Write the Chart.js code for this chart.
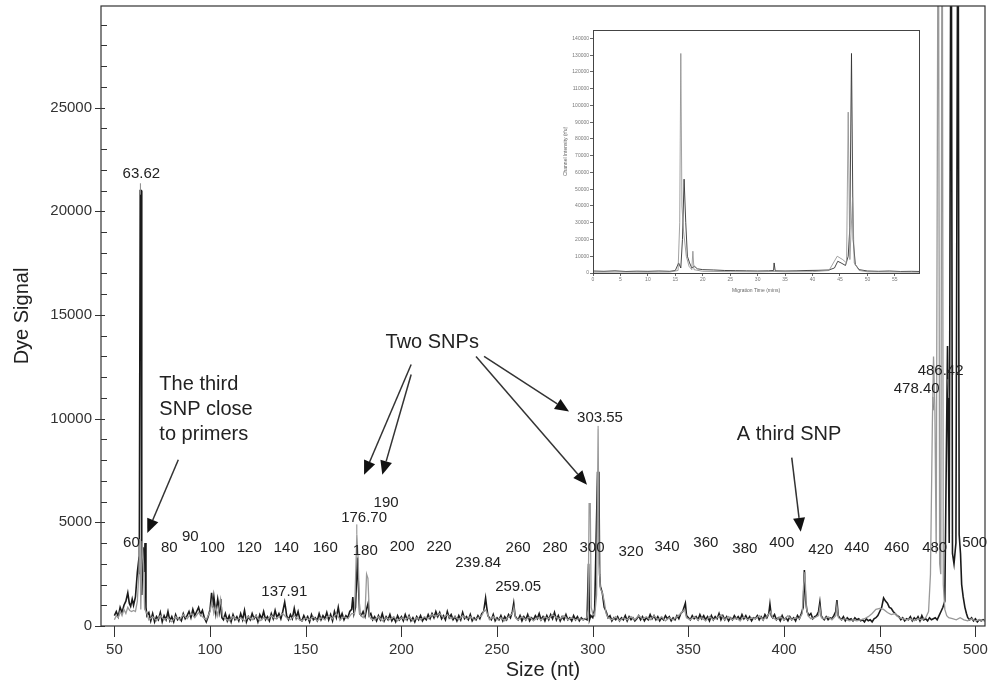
<!DOCTYPE html>
<html>
<head>
<meta charset="utf-8">
<script src="https://cdn.jsdelivr.net/npm/chart.js@4.4.1/dist/chart.umd.min.js"></script>
<style>
  body { margin: 0; background: #fff; }
  #wrap { position: relative; width: 988px; height: 684px; }
  #main { position: absolute; left: 0; top: 0; }
  #inset { position: absolute; left: 560px; top: 18px; }
</style>
</head>
<body>
<div id="wrap">
  <canvas id="main" width="988" height="684"></canvas>
  <canvas id="inset" width="370" height="280"></canvas>
</div>
<script>
// Main electropherogram: size (nt) vs dye signal
const xTicks = [50, 100, 150, 200, 250, 300, 350, 400, 450, 500];
const yTicks = [0, 5000, 10000, 15000, 20000, 25000];

// dark trace [size, signal]
const blackTrace = [
  [50,500],[51,700],[52,450],[53,900],[54,650],[55,1000],[56,1200],[57,1600],[57.8,1100],[58.5,950],
  [59.3,1300],[60,1000],[61,1400],[62,2600],[62.5,3000],[63,2500],[63.5,21000],[64,21000],[64.3,1500],[65,3800],
  [65.5,2600],[66,4000],[66.5,900],[67,500],[68,650],[69,250],[70,600],[71,200],[72,450],[73,300],
  [74,650],[75,200],[76,500],[77,300],[78,700],[79,250],[80,450],[81,200],[82,550],[83,300],
  [84,400],[85,250],[86,600],[87,350],[88,500],[89,700],[90,400],[91,800],[92,500],[93,700],
  [94,900],[95,550],[96,750],[97,400],[98,200],[99,450],[100,800],[100.8,1600],[101.5,900],[102,1400],
  [103,600],[104,1300],[105,700],[105.6,1300],[106.2,400],[107,300],[108,600],[109,250],[110,500],[111,200],
  [112,550],[113,300],[114,450],[115,250],[116,600],[117,300],[118,750],[119,200],[120,450],[121,300],
  [122,600],[123,350],[124,500],[125,200],[126,550],[127,350],[128,700],[129,300],[130,450],[131,250],
  [132,600],[133,350],[134,750],[135,400],[136,600],[137,350],[138,700],[139,1150],[139.6,800],[140,500],
  [141,300],[142,550],[143,350],[144,850],[145,400],[146,700],[147,300],[148,250],[149,500],[150,300],
  [151,450],[152,200],[153,550],[154,300],[155,400],[156,250],[157,600],[158,300],[159,500],[160,350],
  [161,650],[162,300],[163,550],[164,250],[165,700],[166,400],[167,900],[168,350],[169,600],[170,300],
  [171,500],[172,400],[173,700],[174,800],[174.6,1400],[175.2,600],[176,900],[177,3300],[177.6,1800],[178.2,600],
  [179,500],[180,700],[181,450],[182,900],[182.6,1100],[183.2,500],[184,600],[185,300],[186,450],[187,250],
  [188,500],[189,300],[190,600],[191,250],[192,450],[193,300],[194,550],[195,250],[196,400],[197,200],
  [198,500],[199,300],[200,450],[201,250],[202,550],[203,300],[204,500],[205,250],[206,400],[207,200],
  [208,450],[209,300],[210,500],[211,250],[212,400],[213,300],[214,550],[215,350],[216,600],[217,400],
  [218,700],[219,450],[220,650],[221,350],[222,500],[223,300],[224,700],[225,400],[226,550],[227,300],
  [228,450],[229,250],[230,500],[231,300],[232,650],[233,350],[234,450],[235,300],[236,550],[237,250],
  [238,400],[239,300],[240,500],[241,350],[242,600],[243,700],[244,1350],[244.6,900],[245.2,500],[246,400],
  [247,300],[248,550],[249,250],[250,400],[251,300],[252,500],[253,250],[254,450],[255,300],[256,550],
  [257,400],[258,700],[258.7,1100],[259.4,500],[260,400],[261,300],[262,500],[263,250],[264,450],[265,300],
  [266,550],[267,250],[268,400],[269,300],[270,500],[271,350],[272,600],[273,300],[274,450],[275,250],
  [276,500],[277,300],[278,550],[279,350],[280,650],[281,300],[282,500],[283,250],[284,450],[285,300],
  [286,550],[287,300],[288,400],[289,250],[290,500],[291,300],[292,450],[293,250],[294,400],[295,300],
  [296,350],[297,300],[297.8,3000],[298.3,300],[299,500],[300,400],[301,800],[302.5,7400],[303.2,7400],[303.6,2500],
  [304,1900],[305,1600],[306,900],[307,700],[308,400],[309,500],[310,250],[311,400],[312,300],[313,450],
  [314,250],[315,400],[316,300],[317,500],[318,250],[319,450],[320,300],[321,400],[322,250],[323,350],
  [324,500],[325,300],[326,450],[327,250],[328,400],[329,300],[330,550],[331,350],[332,500],[333,300],
  [334,450],[335,250],[336,400],[337,300],[338,500],[339,350],[340,450],[341,250],[342,400],[343,300],
  [344,500],[345,350],[346,600],[347,700],[348.4,1100],[349,500],[350,400],[351,300],[352,500],[353,350],
  [354,450],[355,300],[356,550],[357,350],[358,500],[359,300],[360,450],[361,250],[362,500],[363,300],
  [364,450],[365,350],[366,600],[367,300],[368,500],[369,300],[370,450],[371,250],[372,400],[373,300],
  [374,500],[375,350],[376,450],[377,300],[378,550],[379,350],[380,500],[381,300],[382,450],[383,250],
  [384,400],[385,350],[386,500],[387,300],[388,450],[389,300],[390,550],[391,400],[392,600],[392.6,1050],
  [393.3,500],[394,400],[395,550],[396,300],[397,400],[398,250],[399,500],[400,300],[401,400],[402,250],
  [403,450],[404,300],[405,400],[406,250],[407,500],[408,350],[409,600],[410,900],[410.6,2700],[411.3,1200],
  [412,700],[413,500],[414,600],[415,350],[416,450],[417,500],[418,700],[418.7,1150],[419.4,500],[420,400],
  [421,300],[422,450],[423,300],[424,400],[425,350],[426,500],[427,700],[427.6,1250],[428.3,500],[429,400],
  [430,300],[431,450],[432,250],[433,400],[434,300],[435,350],[436,250],[437,400],[438,300],[439,350],
  [440,250],[441,300],[442,200],[443,350],[444,250],[445,300],[446,200],[447,350],[448,400],[449,500],
  [450,700],[451,900],[452,1350],[453,1200],[454,1100],[455,900],[456,850],[457,700],[458,600],[459,500],
  [460,450],[461,300],[462,400],[463,250],[464,350],[465,300],[466,450],[467,250],[468,400],[469,300],
  [470,450],[471,250],[472,500],[473,300],[474,350],[475,250],[476,400],[477,300],[478,350],[479,400],
  [480,300],[481,500],[482,700],[483,900],[484,1200],[485.4,13500],[486.3,4000],[487.3,40000],[488,3500],[488.8,3000],
  [489.8,4000],[490.9,40000],[491.5,4400],[492.2,3500],[492.8,2000],[493.6,1400],[494.5,900],[495.3,600],[496,400],[497,300],
  [498,400],[499,250],[500,350],[501,200],[502,300],[503,250],[504,300],[505,250]
];

// light trace [size, signal]
const grayTrace = [
  [50,300],[51,500],[52,400],[53,700],[54,500],[55,800],[56,600],[57,900],[58,750],[59,700],
  [60,750],[61,700],[62,1200],[62.8,2600],[63.3,4200],[63.8,800],[64.5,4100],[65.2,3000],[65.8,800],[66.5,700],
  [67,600],[68,300],[70,450],[72,250],[74,500],[76,300],[78,400],[80,200],[82,450],[84,300],
  [86,550],[88,350],[90,600],[92,400],[94,650],[96,450],[98,300],[100,700],[101,1200],[102,600],
  [103,900],[104,500],[105.5,1300],[106.5,500],[108,350],[110,250],[112,450],[114,300],[116,400],[118,250],
  [120,450],[122,300],[124,500],[126,250],[128,400],[130,300],[132,500],[134,350],[136,450],[138,600],
  [140,400],[142,300],[144,500],[146,350],[148,250],[150,400],[152,300],[154,450],[156,250],[158,400],
  [160,300],[162,500],[164,350],[166,600],[168,300],[170,450],[172,350],[174,600],[175.5,600],[176.2,2800],
  [176.7,4400],[177.4,3200],[178.2,600],[179,500],[180,400],[181,600],[181.8,2500],[182.5,2300],[183.3,500],[184,350],
  [186,300],[188,450],[190,250],[192,400],[194,300],[196,450],[198,250],[200,400],[202,300],[204,450],
  [206,250],[208,400],[210,300],[212,450],[214,350],[216,550],[218,450],[220,600],[222,400],[224,550],
  [226,350],[228,450],[230,300],[232,500],[234,350],[236,450],[238,300],[240,400],[242,500],[243.5,800],
  [244.5,700],[246,300],[248,450],[250,300],[252,400],[254,250],[256,450],[258,600],[258.8,900],[259.6,400],
  [261,300],[263,450],[265,300],[267,450],[269,250],[271,400],[273,300],[275,450],[277,350],[279,550],
  [281,400],[283,350],[285,500],[287,300],[289,400],[291,300],[293,350],[295,300],[297,400],[297.6,800],
  [298.1,5900],[298.7,5900],[299.2,900],[300,600],[301,500],[302,1500],[302.8,9500],[303.3,3000],[304,1800],[305,1600],
  [306,1200],[307,600],[308,400],[310,300],[312,450],[314,250],[316,400],[318,300],[320,450],[322,300],
  [324,500],[326,350],[328,450],[330,300],[332,500],[334,300],[336,450],[338,250],[340,400],[342,300],
  [344,450],[346,600],[348,800],[349,400],[351,300],[353,450],[355,300],[357,400],[359,250],[361,450],
  [363,300],[365,400],[367,550],[369,300],[371,450],[373,300],[375,400],[377,250],[379,450],[381,300],
  [383,400],[385,350],[387,500],[389,300],[391,450],[393,700],[394,400],[396,300],[398,450],[400,300],
  [402,500],[404,300],[406,400],[408,350],[409.5,600],[410.2,2000],[410.9,2600],[411.6,900],[412.5,500],[414,350],
  [416,400],[418,500],[418.7,900],[419.5,400],[421,350],[423,450],[425,300],[427,500],[427.6,1000],[428.4,400],
  [430,300],[432,350],[434,250],[436,300],[438,250],[440,300],[442,350],[444,450],[446,600],[448,800],
  [450,850],[452,800],[454,650],[456,550],[458,600],[460,400],[462,350],[464,300],[466,350],[468,250],
  [470,350],[472,300],[474,400],[475.5,700],[476.5,2500],[477.5,9800],[478.1,13000],[478.8,10500],[479.5,3500],[480.6,40000],
  [481.3,3000],[481.9,2500],[482.6,40000],[483.2,2000],[484,800],[485,500],[486,400],[488,350],[490,300],[492,400],
  [494,300],[496,250],[498,350],[500,250],[502,300],[505,250]
];

// peak / size labels written on the plot [text, size, signal]
const peakLabels = [
  ['60', 58.9, 4010], ['80', 78.7, 3770], ['90', 89.7, 4300], ['100', 101.2, 3770],
  ['120', 120.5, 3770], ['140', 139.8, 3770], ['160', 160.2, 3770], ['180', 181.1, 3620],
  ['200', 200.4, 3820], ['220', 219.7, 3820], ['239.84', 240.1, 3040], ['259.05', 261.0, 1880],
  ['260', 261.0, 3770], ['280', 280.3, 3770], ['300', 299.6, 3770], ['320', 320.0, 3570],
  ['340', 338.8, 3820], ['360', 359.1, 4010], ['380', 379.5, 3720], ['400', 398.8, 4010],
  ['420', 419.2, 3670], ['440', 438.0, 3770], ['460', 458.9, 3770], ['480', 478.7, 3770],
  ['500', 499.6, 4010], ['137.91', 138.8, 1640], ['176.70', 180.5, 5220], ['190', 192.0, 5940],
  ['63.62', 64.1, 21790], ['303.55', 303.8, 10050], ['478.40', 469.3, 11450], ['486.42', 481.8, 12320]
];

// thin leader lines from labels to peaks [size1, signal1, size2, signal2]
const leaders = [
  [63.6, 21350, 63.6, 20800], [176.7, 4900, 176.7, 4400], [302.8, 9650, 302.8, 9500],
  [477.8, 11050, 478.2, 10400], [485.6, 11900, 486.0, 11000]
];

// annotation text [lines, size, signal, align]
const notes = [
  [['The third', 'SNP close', 'to primers'], 73.5, 11640, 'left'],
  [['Two SNPs'], 216.1, 13670, 'center'],
  [['A third SNP'], 375.3, 9230, 'left']
];

// arrows [tailSize, tailSignal, tipSize, tipSignal]
const arrows = [
  [83.4, 8020, 67.2, 4490],
  [205.1, 12610, 180.5, 7290],
  [205.1, 12130, 190.0, 7290],
  [239.0, 13000, 297.0, 6810],
  [243.2, 13000, 287.6, 10340],
  [404.0, 8120, 408.7, 4540]
];

const FONT = '"Liberation Sans", Arial, Helvetica, sans-serif';
const INK = '#222';

function drawArrow(ctx, x1, y1, x2, y2) {
  const ang = Math.atan2(y2 - y1, x2 - x1);
  const len = 14, half = 6;
  const bx = x2 - len * Math.cos(ang), by = y2 - len * Math.sin(ang);
  ctx.beginPath();
  ctx.moveTo(x1, y1);
  ctx.lineTo(bx, by);
  ctx.stroke();
  ctx.beginPath();
  ctx.moveTo(x2, y2);
  ctx.lineTo(bx + half * Math.sin(ang), by - half * Math.cos(ang));
  ctx.lineTo(bx - half * Math.sin(ang), by + half * Math.cos(ang));
  ctx.closePath();
  ctx.fill();
}

const mainDecor = {
  id: 'mainDecor',
  afterDraw(chart) {
    const { ctx, chartArea: a, scales: { x, y } } = chart;
    ctx.save();
    // frame
    ctx.strokeStyle = '#333';
    ctx.lineWidth = 1.2;
    ctx.strokeRect(a.left, a.top, a.right - a.left, a.bottom - a.top);
    // y ticks: major cross the axis, minor inside
    ctx.lineWidth = 1;
    for (let v = 0; v <= 29000; v += 1000) {
      const py = Math.round(y.getPixelForValue(v)) + 0.5;
      ctx.beginPath();
      if (v % 5000 === 0) { ctx.moveTo(a.left - 6, py); ctx.lineTo(a.left + 4, py); }
      else { ctx.moveTo(a.left, py); ctx.lineTo(a.left + 6, py); }
      ctx.stroke();
    }
    // x ticks below the axis
    xTicks.forEach(v => {
      const px = Math.round(x.getPixelForValue(v)) + 0.5;
      ctx.beginPath();
      ctx.moveTo(px, a.bottom);
      ctx.lineTo(px, a.bottom + 11);
      ctx.stroke();
    });
    // leaders
    ctx.strokeStyle = '#888';
    leaders.forEach(([s1, v1, s2, v2]) => {
      ctx.beginPath();
      ctx.moveTo(x.getPixelForValue(s1), y.getPixelForValue(v1));
      ctx.lineTo(x.getPixelForValue(s2), y.getPixelForValue(v2));
      ctx.stroke();
    });
    // peak labels
    ctx.fillStyle = INK;
    ctx.font = '15px ' + FONT;
    ctx.textAlign = 'center';
    ctx.textBaseline = 'middle';
    peakLabels.forEach(([t, s, v]) => {
      ctx.fillText(t, x.getPixelForValue(s), y.getPixelForValue(v));
    });
    // notes
    ctx.font = '20px ' + FONT;
    notes.forEach(([lines, s, v, align]) => {
      ctx.textAlign = align;
      lines.forEach((t, i) => {
        ctx.fillText(t, x.getPixelForValue(s), y.getPixelForValue(v) + i * 25);
      });
    });
    // arrows
    ctx.strokeStyle = '#333';
    ctx.fillStyle = '#111';
    ctx.lineWidth = 1.5;
    arrows.forEach(([s1, v1, s2, v2]) => {
      drawArrow(ctx, x.getPixelForValue(s1), y.getPixelForValue(v1),
        x.getPixelForValue(s2), y.getPixelForValue(v2));
    });
    ctx.restore();
  }
};

new Chart(document.getElementById('main'), {
  type: 'line',
  data: {
    datasets: [
      {
        data: grayTrace.map(([s, v]) => ({ x: s, y: v })),
        borderColor: '#999999', borderWidth: 1.3, pointRadius: 0, tension: 0
      },
      {
        data: blackTrace.map(([s, v]) => ({ x: s, y: v })),
        borderColor: '#1a1a1a', borderWidth: 1.6, pointRadius: 0, tension: 0
      }
    ]
  },
  options: {
    responsive: false,
    animation: false,
    layout: { padding: { top: 6, right: 3, left: 0, bottom: 0 } },
    plugins: { legend: { display: false }, tooltip: { enabled: false } },
    scales: {
      x: {
        type: 'linear', min: 43, max: 505,
        afterBuildTicks: s => { s.ticks = xTicks.map(v => ({ value: v })); },
        afterFit: s => { s.height = 58; s.paddingLeft = 0; s.paddingRight = 0; },
        grid: { display: false, drawTicks: false },
        border: { display: false },
        ticks: { padding: 15, color: '#333', font: { family: FONT, size: 15 }, maxRotation: 0, callback: v => String(v) },
        title: { display: true, text: 'Size (nt)', color: INK, font: { family: FONT, size: 20 }, padding: { bottom: 2 } }
      },
      y: {
        min: 0, max: 29900,
        afterBuildTicks: s => { s.ticks = yTicks.map(v => ({ value: v })); },
        afterFit: s => { s.width = 101; s.paddingTop = 0; s.paddingBottom = 0; },
        grid: { display: false, drawTicks: false },
        border: { display: false },
        ticks: { padding: 9, color: '#333', font: { family: FONT, size: 15 }, callback: v => String(v) },
        title: { display: true, text: 'Dye Signal', color: INK, font: { family: FONT, size: 20 }, padding: { top: 10 } }
      }
    }
  },
  plugins: [mainDecor]
});

// Inset: raw trace, migration time (mins) vs intensity
const insetXTicks = [0, 5, 10, 15, 20, 25, 30, 35, 40, 45, 50, 55];
const insetYTicks = [0, 10000, 20000, 30000, 40000, 50000, 60000, 70000, 80000, 90000, 100000, 110000, 120000, 130000, 140000];

const insetBlack = [
  [0,1200],[2,1000],[4,1300],[6,900],[8,1100],[10,1000],[12,1200],[14,1000],[15,1500],[15.6,6000],
  [16.0,3000],[16.3,20000],[16.6,56000],[16.9,30000],[17.2,10000],[17.6,6000],[18,3000],[18.5,4000],[19,2500],[20,2000],
  [22,1800],[24,1500],[26,1400],[28,1300],[30,1200],[32,1300],[32.9,1500],[33.0,6000],[33.2,1300],[35,1200],
  [37,1300],[39,1500],[41,1600],[43,1800],[44,3000],[44.6,7000],[45.2,6000],[46,4500],[46.5,10000],[46.8,27000],
  [47.1,131000],[47.4,20000],[47.8,5000],[48.5,2000],[50,1200],[52,1000],[54,1200],[56,900],[58,1000],[59.5,900]
];
const insetGray = [
  [0,500],[5,600],[10,500],[14,600],[15.5,1500],[15.8,30000],[16.0,131000],[16.2,40000],[16.5,25000],[17,10000],
  [17.5,4000],[18.0,2000],[18.2,13000],[18.4,2000],[20,1000],[25,800],[30,700],[33,900],[35,700],[40,800],
  [43,1500],[44.5,10000],[45.5,8000],[46.2,6000],[46.5,96000],[46.8,8000],[47.3,45000],[47.6,6000],[48.5,1500],[50,700],
  [55,600],[59.5,500]
];

const insetFrame = {
  id: 'insetFrame',
  afterDraw(chart) {
    const { ctx, chartArea: a } = chart;
    ctx.save();
    ctx.strokeStyle = '#444';
    ctx.lineWidth = 1;
    ctx.strokeRect(a.left + 0.5, a.top + 0.5, a.right - a.left, a.bottom - a.top);
    ctx.restore();
  }
};

new Chart(document.getElementById('inset'), {
  type: 'line',
  data: {
    datasets: [
      { data: insetGray.map(([t, v]) => ({ x: t, y: v })), borderColor: '#8a8a8a', borderWidth: 0.8, pointRadius: 0 },
      { data: insetBlack.map(([t, v]) => ({ x: t, y: v })), borderColor: '#333', borderWidth: 0.9, pointRadius: 0 }
    ]
  },
  options: {
    responsive: false,
    animation: false,
    layout: { padding: { top: 12, right: 11, left: 0, bottom: 0 } },
    plugins: { legend: { display: false }, tooltip: { enabled: false } },
    scales: {
      x: {
        type: 'linear', min: 0, max: 59.4,
        afterBuildTicks: s => { s.ticks = insetXTicks.map(v => ({ value: v })); },
        afterFit: s => { s.height = 25; s.paddingLeft = 0; s.paddingRight = 0; },
        grid: { display: true, drawOnChartArea: false, tickLength: 3, color: '#666' },
        border: { display: false },
        ticks: { padding: 1, color: '#777', font: { family: FONT, size: 5 }, maxRotation: 0, callback: v => String(v) },
        title: { display: true, text: 'Migration Time (mins)', color: '#666', font: { family: FONT, size: 5 }, padding: { bottom: 4 } }
      },
      y: {
        min: 0, max: 145000,
        afterBuildTicks: s => { s.ticks = insetYTicks.map(v => ({ value: v })); },
        afterFit: s => { s.width = 33; s.paddingTop = 0; s.paddingBottom = 0; },
        grid: { display: true, drawOnChartArea: false, tickLength: 3, color: '#666' },
        border: { display: false },
        ticks: { padding: 1, color: '#777', font: { family: FONT, size: 5 }, callback: v => String(v) },
        title: { display: true, text: 'Channel Intensity (rfu)', color: '#666', font: { family: FONT, size: 5 }, padding: { top: 3 } }
      }
    }
  },
  plugins: [insetFrame]
});
</script>
</body>
</html>
